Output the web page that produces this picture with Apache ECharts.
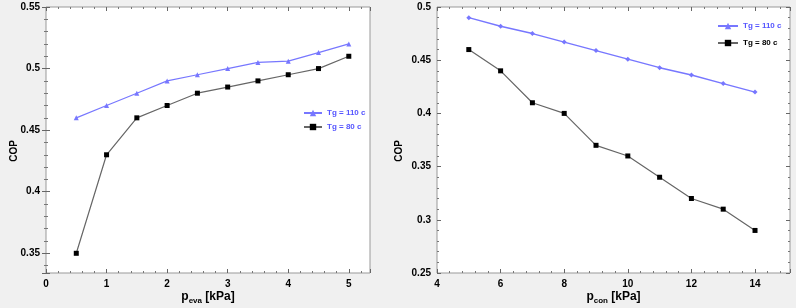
<!DOCTYPE html>
<html>
<head>
<meta charset="utf-8">
<script src="https://cdn.jsdelivr.net/npm/echarts@6/dist/echarts.min.js"></script>
<style>
  html, body { margin: 0; padding: 0; background: #f0f0f0; }
  #chart { width: 796px; height: 308px; }
</style>
</head>
<body>
<div id="chart"></div>
<script>
// left panel: COP vs evaporator pressure
const pEva = [0.5, 1, 1.5, 2, 2.5, 3, 3.5, 4, 4.5, 5];
const copEva110 = [0.46, 0.47, 0.48, 0.49, 0.495, 0.5, 0.505, 0.506, 0.513, 0.52];
const copEva80 = [0.35, 0.43, 0.46, 0.47, 0.48, 0.485, 0.49, 0.495, 0.5, 0.51];

// right panel: COP vs condenser pressure
const pCon = [5, 6, 7, 8, 9, 10, 11, 12, 13, 14];
const copCon110 = [0.49, 0.482, 0.475, 0.467, 0.459, 0.451, 0.443, 0.436, 0.428, 0.42];
const copCon80 = [0.46, 0.44, 0.41, 0.40, 0.37, 0.36, 0.34, 0.32, 0.31, 0.29];

const names = ["Tg = 110 c", "Tg = 80 c"];
const blue = "#7777ff";
const font = "Liberation Sans, Arial, sans-serif";

function pairs(xs, ys) {
  return xs.map((x, i) => [x, ys[i]]);
}

function tickAxis(extra, showMin, showMax) {
  // axis with inward ticks, used for all four sides of each box
  return Object.assign({
    type: "value",
    nameMoveOverlap: false,
    axisLine: { show: false },
    splitLine: { show: false },
    axisTick: { show: true, inside: true, length: 4, lineStyle: { color: "#666" } },
    minorTick: { show: true, splitNumber: 5, length: 2, lineStyle: { color: "#777" } },
    axisLabel: {
      color: "#000", fontSize: 10, fontWeight: "bold", fontFamily: font,
      showMinLabel: showMin, showMaxLabel: showMax, margin: 6
    }
  }, extra);
}

function xName(sub) {
  return {
    name: "{p|p}{s|" + sub + "}{u| [kPa]}",
    nameLocation: "middle",
    nameGap: 16,
    nameTextStyle: {
      rich: {
        p: { fontSize: 12, fontWeight: "bold", fontFamily: font, color: "#000", lineHeight: 16 },
        s: { fontSize: 8, fontWeight: "bold", fontFamily: font, color: "#000", lineHeight: 16, verticalAlign: "bottom", padding: [7, 0, 0, 0] },
        u: { fontSize: 12, fontWeight: "bold", fontFamily: font, color: "#000", lineHeight: 16 }
      }
    }
  };
}

const yNameStyle = { fontSize: 10, fontWeight: "bold", fontFamily: font, color: "#000", padding: [0, 0, 0, -22] };

const xLeft = { min: 0, max: 5.35, interval: 1 };
const yLeft = { min: 0.334, max: 0.55, splitNumber: 4 };
const xRight = { min: 4, max: 15.1, interval: 2 };
const yRight = { min: 0.25, max: 0.5, interval: 0.05 };
const hidden = { axisLabel: { show: false } };

const option = {
  backgroundColor: "#f0f0f0",
  animation: false,
  grid: [
    { left: 46, right: 426, top: 7, bottom: 35, outerBoundsMode: "none", show: true, backgroundColor: "#fff", borderColor: "#999", borderWidth: 1 },
    { left: 437, right: 6, top: 7, bottom: 35, outerBoundsMode: "none", show: true, backgroundColor: "#fff", borderColor: "#999", borderWidth: 1 }
  ],
  xAxis: [
    tickAxis(Object.assign({ gridIndex: 0, position: "bottom" }, xLeft, xName("eva")), true, false),
    tickAxis(Object.assign({ gridIndex: 0, position: "top" }, xLeft, hidden)),
    tickAxis(Object.assign({ gridIndex: 1, position: "bottom" }, xRight, xName("con")), true, false),
    tickAxis(Object.assign({ gridIndex: 1, position: "top" }, xRight, hidden))
  ],
  yAxis: [
    tickAxis(Object.assign({ gridIndex: 0, position: "left", name: "COP", nameLocation: "middle", nameGap: 27, nameTextStyle: yNameStyle }, yLeft), false, true),
    tickAxis(Object.assign({ gridIndex: 0, position: "right" }, yLeft, hidden)),
    tickAxis(Object.assign({ gridIndex: 1, position: "left", name: "COP", nameLocation: "middle", nameGap: 33, nameTextStyle: yNameStyle }, yRight), true, true),
    tickAxis(Object.assign({ gridIndex: 1, position: "right" }, yRight, hidden))
  ],
  legend: [
    {
      orient: "vertical", left: 298, top: 104, itemWidth: 18, itemHeight: 8, itemGap: 6,
      textStyle: { fontSize: 8, fontWeight: "bold", fontFamily: font, color: "#5555ff" },
      data: [{ name: names[0] }, { name: names[1] }]
    },
    {
      orient: "vertical", left: 712, top: 17, itemWidth: 20, itemHeight: 8, itemGap: 9,
      textStyle: { fontSize: 8, fontWeight: "bold", fontFamily: font },
      data: [
        { name: names[0], textStyle: { color: "#5555ff" } },
        { name: names[1], textStyle: { color: "#000" } }
      ]
    }
  ],
  series: [
    {
      name: names[0], type: "line", xAxisIndex: 0, yAxisIndex: 0,
      data: pairs(pEva, copEva110),
      symbol: "triangle", symbolSize: 5,
      lineStyle: { color: blue, width: 1.2 }, itemStyle: { color: blue }
    },
    {
      name: names[1], type: "line", xAxisIndex: 0, yAxisIndex: 0,
      data: pairs(pEva, copEva80),
      symbol: "rect", symbolSize: 5,
      lineStyle: { color: "#666", width: 1.2 }, itemStyle: { color: "#000" }
    },
    {
      name: names[0], type: "line", xAxisIndex: 2, yAxisIndex: 2,
      data: pairs(pCon, copCon110),
      symbol: "diamond", symbolSize: 5,
      lineStyle: { color: blue, width: 1.5 }, itemStyle: { color: blue }
    },
    {
      name: names[1], type: "line", xAxisIndex: 2, yAxisIndex: 2,
      data: pairs(pCon, copCon80),
      symbol: "rect", symbolSize: 5,
      lineStyle: { color: "#666", width: 1.2 }, itemStyle: { color: "#000" }
    }
  ]
};

const chart = echarts.init(document.getElementById("chart"));
chart.setOption(option);
</script>
</body>
</html>
